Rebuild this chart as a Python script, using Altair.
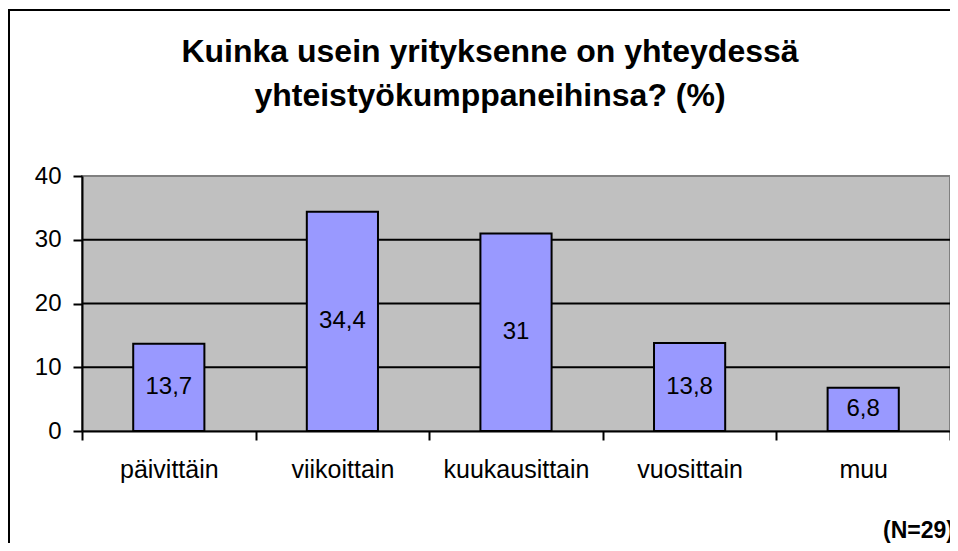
import altair as alt
import pandas as pd

categories = ["päivittäin", "viikoittain", "kuukausittain", "vuosittain", "muu"]
values = [13.7, 34.4, 31, 13.8, 6.8]
grid_values = [10, 20, 30]
title_lines = ["Kuinka usein yrityksenne on yhteydessä", "yhteistyökumppaneihinsa? (%)"]
note_text = "(N=29)"

FONT = "Liberation Sans, Arial, sans-serif"

df = pd.DataFrame({"cat": categories, "v": values})
grid_df = pd.DataFrame({"g": grid_values})
one = pd.DataFrame({"k": [0]})

yscale = alt.Scale(domain=[0, 40], nice=False)
xscale = alt.Scale(paddingInner=0, paddingOuter=0)

x_enc = alt.X(
    "cat:N",
    sort=categories,
    scale=xscale,
    axis=alt.Axis(
        title=None,
        labelAngle=0,
        labelFontSize=25,
        labelFont=FONT,
        labelColor="black",
        labelPadding=17,
        tickBand="extent",
        tickColor="black",
        tickWidth=2,
        tickSize=9,
        domainColor="black",
        domainWidth=2,
    ),
)

y_axis = alt.Axis(
    title=None,
    values=[0, 10, 20, 30, 40],
    grid=False,
    labelFontSize=24,
    labelFont=FONT,
    labelColor="black",
    labelPadding=12,
    tickColor="black",
    tickWidth=2,
    tickSize=9,
    domainColor="black",
    domainWidth=2,
)

grid = alt.Chart(grid_df).mark_rule(color="black", strokeWidth=2).encode(
    y=alt.Y("g:Q", scale=yscale, axis=y_axis)
)

bars = alt.Chart(df).mark_bar(
    color="#9999FF", stroke="black", strokeWidth=2, width=alt.RelativeBandSize(0.41)
).encode(
    x=x_enc,
    y=alt.Y("v:Q", scale=yscale, axis=y_axis),
)

labels = (
    alt.Chart(df)
    .transform_calculate(
        mid="datum.v / 2",
        lab="replace(toString(datum.v), '.', ',')",
    )
    .mark_text(fontSize=24, font=FONT, color="black", baseline="middle")
    .encode(
        x=alt.X("cat:N", sort=categories, scale=xscale),
        y=alt.Y("mid:Q", scale=yscale),
        text="lab:N",
    )
)

title1 = alt.Chart(one).mark_text(
    fontSize=32, font=FONT, fontWeight="bold", color="black", align="center", baseline="alphabetic"
).encode(x=alt.value(408), y=alt.value(-114), text=alt.value(title_lines[0]))

title2 = alt.Chart(one).mark_text(
    fontSize=32, font=FONT, fontWeight="bold", color="black", align="center", baseline="alphabetic"
).encode(x=alt.value(408), y=alt.value(-70), text=alt.value(title_lines[1]))

note = alt.Chart(one).mark_text(
    fontSize=23, font=FONT, fontWeight="bold", color="black", align="left", baseline="alphabetic"
).encode(x=alt.value(801), y=alt.value(362), text=alt.value(note_text))

frame_top = alt.Chart(one).mark_rule(color="black", strokeWidth=2).encode(
    x=alt.value(-74), x2=alt.value(868), y=alt.value(-166)
)
frame_left = alt.Chart(one).mark_rect(color="black", strokeWidth=0).encode(
    x=alt.value(-74), x2=alt.value(-72), y=alt.value(-167), y2=alt.value(367)
)

chart = (
    alt.layer(grid, bars, labels, title1, title2, note, frame_top, frame_left)
    .properties(
        width=868,
        height=255,
        autosize=alt.AutoSizeParams(type="none"),
        padding={"left": 74, "top": 168, "right": 0, "bottom": 112},
        background="white",
    )
    .configure_view(fill="#C0C0C0", stroke="#808080", strokeWidth=2)
)

chart.save("out.html", embed_options={"renderer": "svg", "actions": False})
